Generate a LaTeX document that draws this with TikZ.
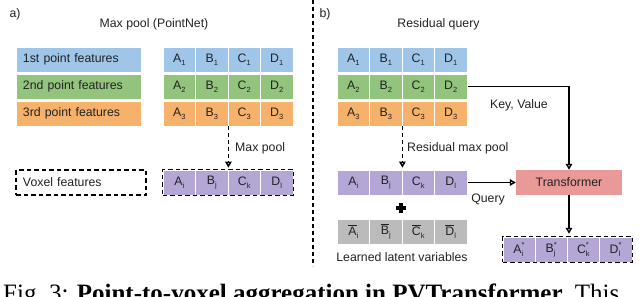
\documentclass[tikz,border=0pt]{standalone}
\usepackage{fontspec}
\setmainfont{Liberation Sans}
\newfontfamily\capfont{Liberation Serif}
\usetikzlibrary{arrows.meta,fit,calc}
\definecolor{cblue}{HTML}{9FC5E8}
\definecolor{cgreen}{HTML}{93C47D}
\definecolor{corange}{HTML}{F6B26B}
\definecolor{cpurple}{HTML}{B4A7D6}
\definecolor{csalmon}{HTML}{EA9999}
\definecolor{cgray}{HTML}{BBBBBB}
\definecolor{ctext}{HTML}{222222}
\newcommand\subsz{\fontsize{7.5}{7.5}\selectfont}
\newcommand\lt[2]{#1\raisebox{-3pt}{\subsz#2}}
\newcommand\ltb[2]{$\overline{\mbox{#1}}$\raisebox{-3pt}{\subsz#2}}
\newcommand\lts[2]{$\mbox{#1}^{\mbox{\subsz*}}_{\mbox{\subsz#2}}$}
\begin{document}
\begin{tikzpicture}[x=1pt,y=-1pt,
  font=\fontsize{12.3}{14}\selectfont, text=ctext,
  cellbox/.style={minimum width=32.5pt, minimum height=25pt, inner sep=0pt, draw=white, line width=0.8pt},
  ocell/.style={cellbox, minimum width=32.25pt, fill=cpurple},
  lbox/.style={minimum height=25pt, text width=111pt, inner xsep=7pt, inner ysep=0pt, align=left, draw=white, line width=0.8pt},
  dline/.style={line width=1.4pt, dash pattern=on 4pt off 3pt},
  sline/.style={line width=1.4pt},
  tip/.style={-{Triangle[open,length=6pt,width=6.5pt]}},
  outl/.style={draw=black, line width=1.6pt, dash pattern=on 4.5pt off 3pt, inner sep=0pt},
  lab/.style={inner sep=0pt}
]
\useasboundingbox (0,0) rectangle (640,297);

% titles
\node[lab] (ta) at (15,14) {a)};
\node[lab] (tb) at (325,14) {b)};
\node[lab] (tta) at (154,24) {Max pool (PointNet)};
\node[lab] (ttb) at (438.5,24) {Residual query};

% divider
\coordinate (dtop) at (313,0);
\coordinate (dbot) at (313,266);
\draw[dline] (dtop) -- (dbot);

% left feature labels
\node[lbox, fill=cblue]   (l1) at (78.5,59.5)  {1st point features};
\node[lbox, fill=cgreen]  (l2) at (78.5,86.5)  {2nd point features};
\node[lbox, fill=corange] (l3) at (78.5,113.5) {3rd point features};

% point feature grids
\foreach \r/\c/\y in {1/cblue/59.5, 2/cgreen/86.5, 3/corange/113.5}{
  \foreach \L [count=\k from 0] in {A,B,C,D}{
    \node[cellbox, fill=\c] (a\r\L) at (179.25+32.5*\k, \y) {\lt{\L}{\r}};
    \node[cellbox, fill=\c] (b\r\L) at (353.25+32.5*\k, \y) {\lt{\L}{\r}};
  }
}

% voxel features (a)
\node[minimum width=130pt, minimum height=25pt, text width=116pt, inner xsep=7pt, inner ysep=0pt, align=left, outl] (vox) at (81,182.5) {Voxel features};
\foreach \L/\s [count=\k from 0] in {A/i,B/j,C/k,D/l}{
  \node[cellbox, fill=cpurple] (aV\L) at (179.25+32.5*\k, 182.5) {\lt{\L}{\s}};
  \node[cellbox, fill=cpurple] (bV\L) at (353.25+32.5*\k, 182.5) {\lt{\L}{\s}};
  \node[cellbox, fill=cgray] (g\L) at (353.25+32.5*\k, 231.5) {\ltb{\L}{\s}};
  \node[ocell] (o\L) at (519.125+32.25*\k, 249.5) {\lts{\L}{\s}};
}
\node[fit=(aVA)(aVD), outl] (aV) {};
\node[fit=(oA)(oD), outl] (oRow) {};

% plus sign
\draw[line width=3.5pt] (396,208) -- (406,208) (401,203) -- (401,213);

% transformer
\node[fill=csalmon, minimum width=106pt, minimum height=25pt, inner sep=0pt] (T) at (569,182.5) {Transformer};

% connectors
\draw[dline, tip] (a3B.south east) -- ($(aVB.north east)+(0,-2)$);
\node[lab, anchor=west] (mp) at (235,148) {Max pool};

\draw[dline, tip] (b3B.south east) -- ($(bVB.north east)+(0,-2)$);
\node[lab, anchor=west] (rmp) at (407,148) {Residual max pool};

\draw[sline, tip] ($(b2D.east)+(1,0)$) -| (T.north);
\node[lab] (kv) at (519,105) {Key, Value};

\draw[sline, tip] ($(bVD.east)+(1,0)$) -- (T.west);
\node[lab] (q) at (488,199) {Query};

\draw[sline, tip] (T.south) -- ($(T.south |- oRow.north)+(0,-2)$);

\node[lab] (llv) at (402,257) {Learned latent variables};

% caption (cut off by the page edge)
\node[lab, anchor=base west, text=black, font=\capfont\fontsize{25}{25}\selectfont] (cap) at (3,301.5) {Fig.~3: \textbf{Point-to-voxel aggregation in PVTransformer.} This};
\end{tikzpicture}
\end{document}
